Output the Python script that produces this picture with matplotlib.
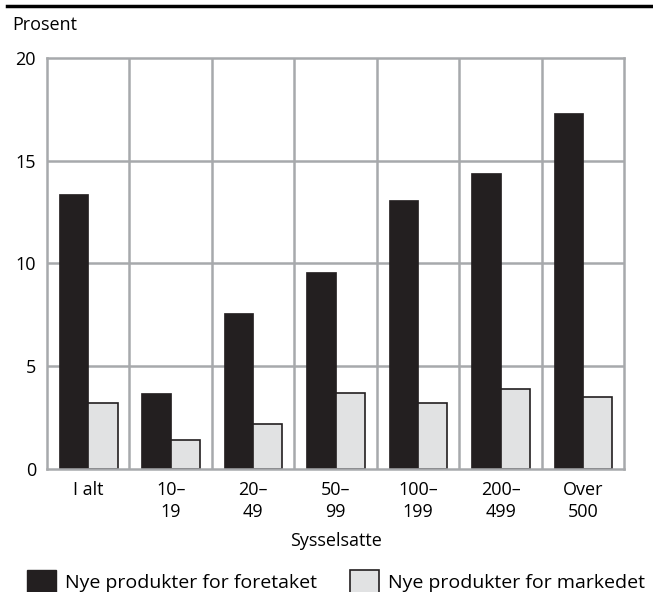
import matplotlib
matplotlib.use('Agg')
import matplotlib.pyplot as plt
import numpy as np
from matplotlib.patches import Patch
from matplotlib.lines import Line2D

categories = ['I alt', '10–\n19', '20–\n49', '50–\n99', '100–\n199', '200–\n499', 'Over\n500']
foretaket = [13.4, 3.7, 7.6, 9.6, 13.1, 14.4, 17.3]
markedet = [3.2, 1.4, 2.2, 3.7, 3.2, 3.9, 3.5]
series_names = ['Nye produkter for foretaket', 'Nye produkter for markedet']

plt.rcParams['font.family'] = ['Open Sans', 'DejaVu Sans']
GRID = '#a7a9ac'
DARK = '#231f20'
LIGHT = '#e1e2e3'
FS = 13

fig = plt.figure(figsize=(6.53, 5.92), dpi=100)
ax = fig.add_axes([0.072, 0.208, 0.884, 0.694])

x = np.arange(len(categories))
w = 0.355
ax.bar(x - w / 2, foretaket, w, color=DARK, edgecolor=DARK, linewidth=0.5, zorder=3)
ax.bar(x + w / 2, markedet, w, color=LIGHT, edgecolor=DARK, linewidth=1.2, zorder=3)

ax.set_xlim(-0.5, len(categories) - 0.5)
ax.set_ylim(0, 20)
ax.set_yticks([0, 5, 10, 15, 20])
ax.set_xticks(x)
ax.set_xticklabels(categories, fontsize=FS, linespacing=1.25)
ax.tick_params(axis='both', length=0, labelsize=FS)
ax.tick_params(axis='y', pad=8)
ax.tick_params(axis='x', pad=9)

for xv in np.arange(0.5, len(categories) - 0.5, 1):
    ax.axvline(xv, color=GRID, linewidth=1.8, zorder=1)
for yv in [5, 10, 15]:
    ax.axhline(yv, color=GRID, linewidth=1.8, zorder=1)
for s in ax.spines.values():
    s.set_color(GRID)
    s.set_linewidth(1.8)
ax.spines['bottom'].set_zorder(4)

ax.set_xlabel('Sysselsatte', fontsize=FS, labelpad=8)

fig.text(0.018, 0.958, 'Prosent', fontsize=FS, va='center', ha='left')
fig.add_artist(Line2D([0.01, 1.0], [0.99, 0.99], color='black', linewidth=2.5))

handles = [Patch(facecolor=DARK, edgecolor=DARK),
           Patch(facecolor=LIGHT, edgecolor=DARK, linewidth=1.2)]
fig.legend(handles, series_names, loc='center left', bbox_to_anchor=(0.041, 0.017),
           ncol=2, frameon=False, fontsize=14, handlelength=1.5, handleheight=1.5,
           handletextpad=0.45, columnspacing=1.7, borderaxespad=0, borderpad=0)

fig.savefig('out.png', dpi=100)
